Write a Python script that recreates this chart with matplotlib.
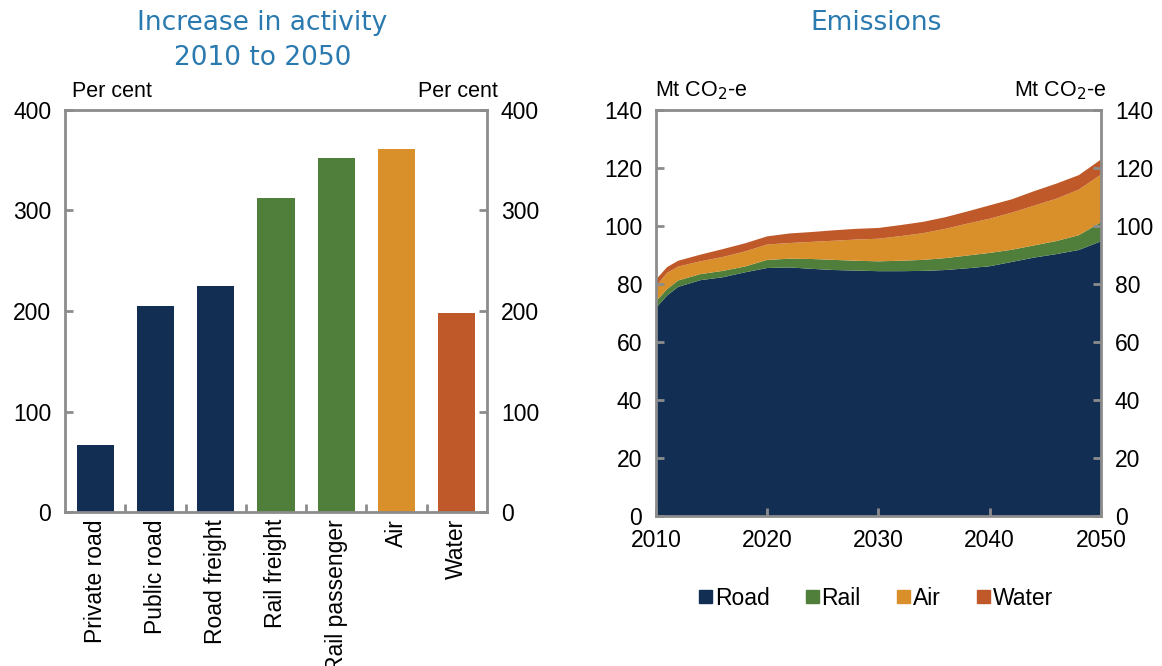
"""Transport activity growth and emissions, 2010 to 2050."""

import numpy as np
import matplotlib.pyplot as plt
from matplotlib.patches import Patch
from matplotlib.ticker import FixedLocator

plt.rcParams["font.family"] = ["Liberation Sans", "DejaVu Sans"]

# left panel: increase in activity, per cent
modes = ["Private road", "Public road", "Road freight", "Rail freight",
         "Rail passenger", "Air", "Water"]
increase = [67, 205, 225, 312, 352, 361, 198]

# right panel: emissions by mode, Mt CO2-e
years = [2010, 2011, 2012, 2014, 2016, 2018, 2020, 2022, 2024, 2026, 2028,
         2030, 2032, 2034, 2036, 2038, 2040, 2042, 2044, 2046, 2048, 2050]
road = [71.7, 76.0, 79.0, 81.3, 82.3, 84.0, 85.5, 85.7, 85.2, 84.8, 84.6,
        84.4, 84.4, 84.5, 84.8, 85.4, 86.1, 87.6, 89.1, 90.3, 91.7, 94.7]
rail = [2.3, 2.2, 2.2, 2.1, 2.2, 2.0, 2.8, 3.0, 3.4, 3.5, 3.4,
        3.4, 3.6, 3.8, 4.1, 4.4, 4.6, 4.2, 4.2, 4.5, 5.1, 6.6]
air = [5.2, 5.6, 4.8, 4.4, 4.8, 5.2, 5.3, 5.4, 5.9, 6.6, 7.3,
       7.8, 8.5, 9.2, 10.1, 11.0, 11.8, 12.8, 13.7, 14.6, 15.7, 16.4]
water = [2.3, 2.0, 2.0, 2.3, 2.7, 2.8, 2.8, 3.3, 3.4, 3.6, 3.7,
         3.7, 3.8, 3.9, 4.0, 4.2, 4.6, 4.6, 5.0, 5.2, 5.0, 5.2]

NAVY = "#122e52"
GREEN = "#4f7f3b"
ORANGE = "#d98f2a"
RUST = "#c0592a"
TITLE = "#2a7ab0"
GREY = "#8c8c8c"
bar_colors = [NAVY, NAVY, NAVY, GREEN, GREEN, ORANGE, RUST]

FS = 16.5
UNIT_FS = 15.5


def style_axes(ax):
    for s in ax.spines.values():
        s.set_color(GREY)
        s.set_linewidth(2)
    ax.tick_params(axis="both", direction="in", color=GREY, width=2,
                   length=6, labelsize=FS, pad=8)
    ax.tick_params(axis="y", left=True, right=True, labelleft=True,
                   labelright=True, pad=10)


fig = plt.figure(figsize=(11.62, 6.66), dpi=100)

# bar panel
ax1 = fig.add_axes([0.056, 0.231, 0.363, 0.604])
x = np.arange(len(modes))
ax1.bar(x, increase, width=0.62, color=bar_colors)
ax1.set_xlim(-0.5, len(modes) - 0.5)
ax1.set_ylim(0, 400)
ax1.set_yticks([0, 100, 200, 300, 400])
style_axes(ax1)
ax1.set_xticks(x)
ax1.set_xticklabels(modes, rotation=90, fontsize=FS)
ax1.tick_params(axis="x", length=0, pad=5)
ax1.xaxis.set_minor_locator(FixedLocator(x[:-1] + 0.5))
ax1.tick_params(axis="x", which="minor", direction="in", color=GREY,
                width=2, length=6)
ax1.text(0.017, 1.02, "Per cent", transform=ax1.transAxes, fontsize=UNIT_FS,
         ha="left", va="bottom")
ax1.text(1.025, 1.02, "Per cent", transform=ax1.transAxes, fontsize=UNIT_FS,
         ha="right", va="bottom")
fig.text(0.226, 0.985, "Increase in activity\n2010 to 2050", ha="center",
         va="top", fontsize=19, color=TITLE, family="DejaVu Sans",
         linespacing=1.45)

# stacked area panel
ax2 = fig.add_axes([0.5645, 0.2252, 0.383, 0.6098])
ax2.stackplot(years, road, rail, air, water,
              colors=[NAVY, GREEN, ORANGE, RUST], linewidth=0)
ax2.set_xlim(2010, 2050)
ax2.set_ylim(0, 140)
ax2.set_yticks(range(0, 141, 20))
ax2.set_xticks([2010, 2020, 2030, 2040, 2050])
style_axes(ax2)
ax2.tick_params(axis="x", pad=9)
ax2.text(-0.003, 1.02, "Mt CO$_2$-e", transform=ax2.transAxes,
         fontsize=UNIT_FS, ha="left", va="bottom")
ax2.text(1.012, 1.02, "Mt CO$_2$-e", transform=ax2.transAxes,
         fontsize=UNIT_FS, ha="right", va="bottom")
fig.text(0.754, 0.985, "Emissions", ha="center", va="top", fontsize=19,
         color=TITLE, family="DejaVu Sans")

handles = [Patch(color=c) for c in [NAVY, GREEN, ORANGE, RUST]]
fig.legend(handles, ["Road", "Rail", "Air", "Water"], loc="center",
           bbox_to_anchor=(0.754, 0.102), ncol=4, frameon=False,
           fontsize=FS, handlelength=0.55, handleheight=0.55,
           handletextpad=0.12, columnspacing=1.6)

fig.savefig("out.png", dpi=100)
